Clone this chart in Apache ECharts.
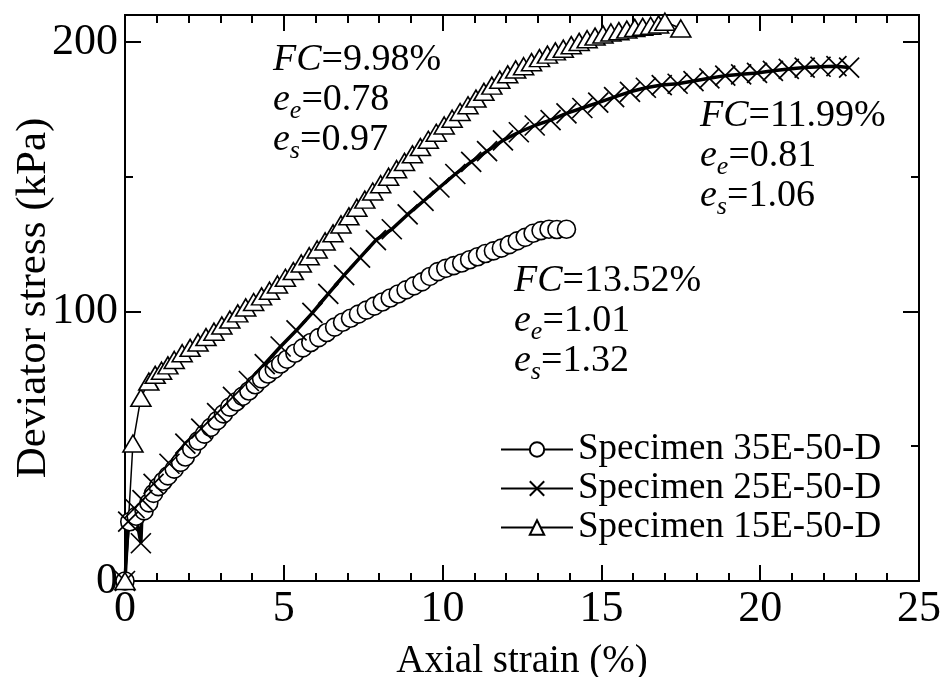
<!DOCTYPE html>
<html><head><meta charset="utf-8">
<script src="https://cdn.jsdelivr.net/npm/echarts@6/dist/echarts.min.js"></script>
<style>html,body{margin:0;padding:0;background:#fff}#c{width:943px;height:677px}</style>
</head><body><div id="c"></div>
<script>
// ---------- data ----------
const seriesNames = ['Specimen 35E-50-D', 'Specimen 25E-50-D', 'Specimen 15E-50-D'];
const xTicks = [0, 5, 10, 15, 20, 25];
const yTicks = [0, 100, 200];

const strain35 = [0, 0.15, 0.35, 0.6, 0.75, 0.9, 1.05, 1.2, 1.35, 1.55, 1.75, 1.9, 2.1, 2.3, 2.5, 2.7, 2.9, 3.1, 3.3, 3.5, 3.7, 3.9, 4.1, 4.3, 4.5, 4.7, 4.9, 5.1, 5.35, 5.6, 5.85, 6.1, 6.35, 6.6, 6.85, 7.1, 7.35, 7.6, 7.85, 8.1, 8.35, 8.6, 8.85, 9.1, 9.35, 9.6, 9.85, 10.1, 10.35, 10.6, 10.85, 11.1, 11.35, 11.6, 11.85, 12.1, 12.35, 12.6, 12.85, 13.1, 13.35, 13.6, 13.9];
const stress35 = [0, 22, 24, 26, 29, 32.5, 35, 37, 39, 41.5, 44, 46, 49, 52, 54.5, 57, 59.5, 62, 64.5, 66.5, 68.5, 70.5, 72.8, 75, 76.8, 78.5, 80.5, 82.3, 84.5, 86.5, 88.5, 90.3, 92.2, 94.2, 96, 97.5, 99, 100.5, 102, 103.5, 105, 106.5, 108, 109.5, 111, 113, 114.8, 116, 117, 118, 119.2, 120.3, 121.5, 122.5, 123.5, 124.8, 126.2, 127.5, 129, 130, 130.5, 130.4, 130.5];

const strain25 = [0, 0.1, 0.3, 0.5, 0.55, 0.9, 1.4, 1.9, 2.4, 2.9, 3.4, 3.9, 4.4, 4.9, 5.4, 5.9, 6.4, 6.9, 7.4, 7.9, 8.4, 8.9, 9.4, 9.9, 10.4, 10.9, 11.4, 11.9, 12.4, 12.9, 13.4, 13.9, 14.4, 14.9, 15.4, 15.9, 16.4, 16.9, 17.4, 17.9, 18.4, 18.9, 19.4, 19.9, 20.4, 20.9, 21.4, 21.9, 22.4, 22.8];
const stress25 = [0, 22, 27, 14, 30, 36, 43.5, 51, 56.5, 62.3, 68.3, 74.2, 80.5, 87, 93, 99.5, 106.5, 113.5, 120, 126.5, 130.5, 136, 141, 146, 151, 155.5, 159.5, 163.5, 166.5, 169, 171, 173.5, 175.5, 177.5, 179.5, 181.5, 183, 184, 184.5, 185.5, 186.5, 187.5, 188, 188.5, 189.3, 190, 190.5, 190.8, 191, 190.5];

const strain15 = [0, 0.25, 0.5, 0.75, 0.95, 1.15, 1.35, 1.55, 1.8, 2.05, 2.3, 2.55, 2.8, 3.05, 3.3, 3.55, 3.8, 4.05, 4.3, 4.55, 4.8, 5.05, 5.3, 5.55, 5.8, 6.05, 6.3, 6.55, 6.8, 7.05, 7.3, 7.55, 7.8, 8.05, 8.3, 8.55, 8.8, 9.05, 9.3, 9.55, 9.8, 10.05, 10.3, 10.55, 10.8, 11.05, 11.3, 11.55, 11.8, 12.05, 12.3, 12.55, 12.8, 13.05, 13.3, 13.55, 13.8, 14.05, 14.3, 14.55, 14.8, 15.05, 15.3, 15.55, 15.8, 16.05, 16.3, 16.55, 16.8, 17.0, 17.5];
const stress15 = [0, 51, 68, 74, 76.5, 78, 80, 82, 84.5, 86.5, 88.5, 90.5, 92.5, 94.8, 97, 99.3, 101.5, 103.5, 105.6, 107.7, 110, 112.5, 115, 117.8, 120.5, 123, 126, 129, 132.3, 135.3, 138.5, 141.5, 144.5, 147.2, 150, 152.8, 155.5, 158.3, 161, 163.7, 166.3, 169, 171.5, 174, 176.5, 179, 181.5, 183.8, 186, 188, 189.8, 191, 192.5, 194, 195.3, 196.5, 197.5, 198.8, 200, 201, 202, 202.8, 203.5, 204, 204.6, 205.2, 205.6, 206, 206.5, 207.5, 205];

// annotation texts
const notes = [
  ['{i|FC}{n|=9.98%}', '{i|e}{s|e}{n|=0.78}', '{i|e}{s|s}{n|=0.97}'],
  ['{i|FC}{n|=11.99%}', '{i|e}{s|e}{n|=0.81}', '{i|e}{s|s}{n|=1.06}'],
  ['{i|FC}{n|=13.52%}', '{i|e}{s|e}{n|=1.01}', '{i|e}{s|s}{n|=1.32}']
];

// ---------- chart ----------
const F = "'Liberation Serif','Times New Roman',serif";
const zip = (a, b) => a.map((v, i) => [v, b[i]]);
const chart = echarts.init(document.getElementById('c'), null, {renderer: 'canvas'});

const axLine = {show: true, onZero: false, lineStyle: {color: '#000', width: 2}};
function xAx(pos, showLabel) {
  return {
    type: 'value', position: pos, min: 0, max: 25, interval: 5,
    axisLine: axLine,
    axisTick: {show: true, inside: true, length: 16, lineStyle: {color: '#000', width: 2}},
    minorTick: {show: true, splitNumber: 5, length: 8, lineStyle: {color: '#000', width: 2}},
    splitLine: {show: false}, minorSplitLine: {show: false},
    axisLabel: {show: showLabel, color: '#000', fontFamily: F, fontSize: 44, margin: 6,
      formatter: v => (xTicks.indexOf(v) >= 0 ? String(v) : '')},
    name: showLabel ? 'Axial strain (%)' : '', nameLocation: 'middle', nameGap: 61, nameMoveOverlap: false,
    nameTextStyle: {color: '#000', fontFamily: F, fontSize: 39}
  };
}
function yAx(pos, interval, len, showLabel, nameStr) {
  return {
    type: 'value', position: pos, min: 0, max: 210, interval: interval,
    axisLine: axLine,
    axisTick: {show: true, inside: true, length: len, lineStyle: {color: '#000', width: 2}},
    splitLine: {show: false},
    axisLabel: {show: showLabel, color: '#000', fontFamily: F, fontSize: 44, margin: 7,
      formatter: v => (yTicks.indexOf(v) >= 0 ? String(v) : '')},
    name: nameStr, nameLocation: 'middle', nameGap: 70, nameRotate: 90, nameMoveOverlap: false,
    nameTextStyle: {color: '#000', fontFamily: F, fontSize: 43}
  };
}

const rich = {
  i: {fontFamily: F, fontStyle: 'italic', fontSize: 38, lineHeight: 40, verticalAlign: 'middle', fill: '#000'},
  n: {fontFamily: F, fontSize: 38, lineHeight: 40, verticalAlign: 'middle', fill: '#000'},
  s: {fontFamily: F, fontStyle: 'italic', fontSize: 26, lineHeight: 26, padding: [21, 0, 0, 0], verticalAlign: 'middle', fill: '#000'}
};
const notePos = [[273, 60.4], [700, 116.4], [514, 281.4]];
const graphics = [];
notes.forEach((blk, bi) => {
  blk.forEach((t, li) => {
    graphics.push({type: 'text', x: notePos[bi][0], y: notePos[bi][1] + li * 40, silent: true,
      style: {text: t, rich: rich, align: 'left', verticalAlign: 'middle', fill: '#000', fontFamily: F, fontSize: 38}});
  });
});

const crossPath = 'path://M0,0L10,10M10,0L0,10';
chart.setOption({
  animation: false,
  backgroundColor: '#fff',
  grid: {left: 125, right: 24, top: 15, bottom: 96, containLabel: false, outerBoundsMode: 'none'},
  xAxis: [xAx('bottom', true), xAx('top', false)],
  yAxis: [yAx('left', 100, 16, true, 'Deviator stress (kPa)'), yAx('left', 50, 8, false, ''),
          yAx('right', 100, 16, false, ''), yAx('right', 50, 8, false, '')],
  legend: {
    orient: 'vertical', left: 500, top: 431, padding: 0, itemWidth: 72, itemHeight: 18, itemGap: 2,
    data: seriesNames, selectedMode: false,
    textStyle: {color: '#000', fontFamily: F, fontSize: 37}
  },
  graphic: graphics,
  series: [
    {name: seriesNames[0], type: 'line', data: zip(strain35, stress35), symbol: 'circle', symbolSize: 18,
     showAllSymbol: true, clip: false, emphasis: {disabled: true},
     lineStyle: {color: '#000', width: 1.5}, itemStyle: {color: '#fff', borderColor: '#000', borderWidth: 1.6}},
    {name: seriesNames[1], type: 'line', data: zip(strain25, stress25), symbol: crossPath, symbolSize: 20,
     showAllSymbol: true, clip: false, emphasis: {disabled: true},
     lineStyle: {color: '#000', width: 3.5}, itemStyle: {color: '#000', borderColor: '#000', borderWidth: 1.7}},
    {name: seriesNames[2], type: 'line', data: zip(strain15, stress15), symbol: 'triangle', symbolSize: [20, 17],
     showAllSymbol: true, clip: false, emphasis: {disabled: true},
     lineStyle: {color: '#000', width: 1.5}, itemStyle: {color: '#fff', borderColor: '#000', borderWidth: 1.6}}
  ]
});
</script>
</body></html>
